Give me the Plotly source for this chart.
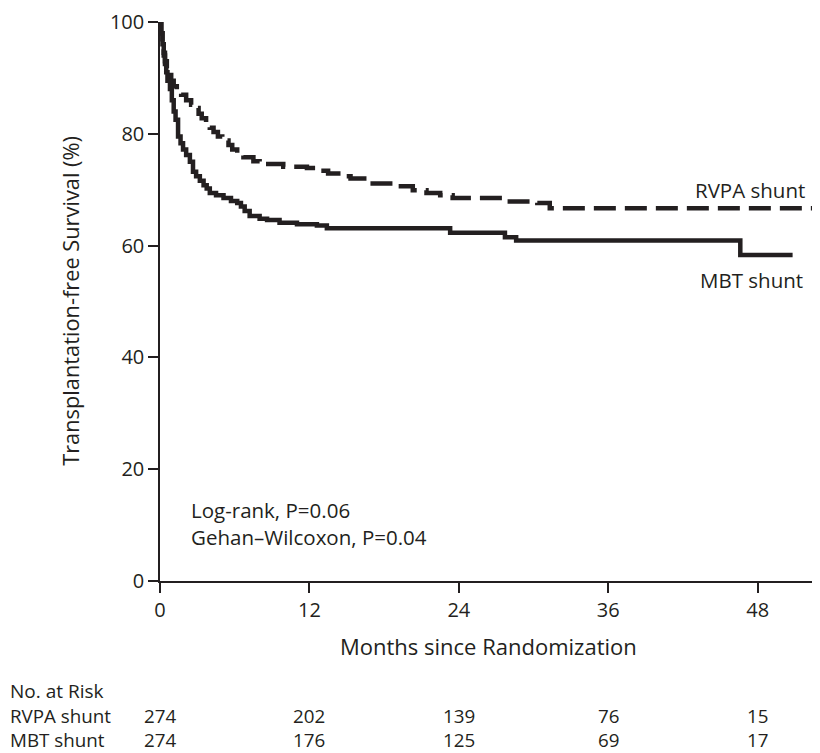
import plotly.graph_objects as go

# Kaplan-Meier estimates (months, % surviving)
rvpa_months = [0, 0.1, 0.2, 0.3, 0.4, 0.55, 0.7, 0.9, 1.1, 1.35, 1.7, 2.1, 2.5, 2.8,
               3.1, 3.35, 3.7, 4.0, 4.3, 4.65, 5.0, 5.5, 5.8, 6.2, 6.7, 7.5, 8.0,
               9.9, 11.8, 12.6, 13.5, 14.5, 15.3, 16.6, 18.7, 20.3, 21.4, 22.5,
               23.5, 27.6, 30.3, 31.3, 52.4]
rvpa_surv = [100, 98, 96, 94.5, 93, 91.5, 90.5, 89.5, 88.5, 87.7, 87.0, 86.0, 85.2, 84.6,
             83.6, 82.8, 82.0, 81.1, 80.3, 79.5, 78.8, 78.0, 77.2, 76.4, 75.8, 75.1, 74.6,
             74.1, 73.9, 73.4, 72.9, 72.4, 72.0, 71.1, 70.6, 69.9, 69.4, 69.0,
             68.5, 67.9, 67.6, 66.7, 66.7]

mbt_months = [0, 0.1, 0.2, 0.3, 0.4, 0.5, 0.6, 0.8, 0.95, 1.1, 1.25, 1.45, 1.65, 1.85,
              2.1, 2.4, 2.65, 2.9, 3.2, 3.5, 3.75, 4.0, 4.5, 5.1, 5.7, 6.2, 6.5, 6.8,
              7.2, 8.0, 8.6, 9.6, 11.0, 12.6, 13.4, 23.3, 27.7, 28.6, 46.6, 50.8]
mbt_surv = [100, 98, 96, 94, 92.5, 91, 89.5, 88.0, 86, 84, 82.5, 79.5, 78.3, 77.2,
            76.2, 75.0, 73.2, 72.4, 71.6, 70.8, 70.2, 69.4, 69.0, 68.5, 68.0, 67.6, 67.0, 66.2,
            65.3, 64.8, 64.6, 64.1, 63.8, 63.6, 63.1, 62.3, 61.5, 60.9, 58.3, 58.3]

risk_months = [0, 12, 24, 36, 48]
risk_rvpa = [274, 202, 139, 76, 15]
risk_mbt = [274, 176, 125, 69, 17]

ink = "#231f20"
font = "Open Sans"

fig = go.Figure()
fig.add_trace(go.Scatter(x=rvpa_months, y=rvpa_surv, mode="lines", line_shape="hv",
                         line=dict(color=ink, width=4.5, dash="22px,9px"),
                         name="RVPA shunt"))
fig.add_trace(go.Scatter(x=mbt_months, y=mbt_surv, mode="lines", line_shape="hv",
                         line=dict(color=ink, width=4.5), name="MBT shunt"))

ann = []
# curve labels
ann.append(dict(x=42.8, y=70.0, xref="x", yref="y", text="RVPA shunt",
                xanchor="left", yanchor="middle", showarrow=False, font=dict(size=20.5)))
ann.append(dict(x=43.2, y=53.9, xref="x", yref="y", text="MBT shunt",
                xanchor="left", yanchor="middle", showarrow=False, font=dict(size=20.5)))
# test results
ann.append(dict(x=2.3, y=10.2, xref="x", yref="y",
                text="Log-rank, P=0.06<br>Gehan\u2013Wilcoxon, P=0.04", align="left",
                xanchor="left", yanchor="middle", showarrow=False, font=dict(size=20.5)))
# axis titles
ann.append(dict(x=0.498, y=-0.117, xref="paper", yref="paper",
                text="Months since Randomization", xanchor="center", yanchor="middle",
                showarrow=False, font=dict(size=22)))
ann.append(dict(x=-0.135, y=0.501, xref="paper", yref="paper",
                text="Transplantation-free Survival (%)", textangle=-90,
                xanchor="center", yanchor="middle", showarrow=False, font=dict(size=21.8)))
# number at risk table: each column holds both rows
row_x = -152 / 660
ann.append(dict(x=row_x, y=-0.196, xref="paper", yref="paper", text="No. at Risk",
                xanchor="left", yanchor="middle", showarrow=False, font=dict(size=19)))
ann.append(dict(x=row_x, y=-0.263, xref="paper", yref="paper",
                text="RVPA shunt<br>MBT shunt", align="left",
                xanchor="left", yanchor="middle", showarrow=False, font=dict(size=18.8)))
for m, a, b in zip(risk_months, risk_rvpa, risk_mbt):
    ann.append(dict(x=m, y=-0.263, xref="x", yref="paper", text=f"{a}<br>{b}",
                    xanchor="center", yanchor="middle", showarrow=False,
                    font=dict(size=18.8)))

# the page body adds 8px around the figure, so the figure is 8px smaller
fig.update_layout(
    width=812, height=745,
    margin=dict(l=152, r=0, t=2, b=172),
    paper_bgcolor="white", plot_bgcolor="white",
    showlegend=False,
    font=dict(family=font, size=20, color=ink),
    annotations=ann,
)
fig.update_xaxes(range=[0, 53], tickvals=risk_months, showline=True, linecolor=ink,
                 linewidth=1.5, ticks="outside", ticklen=10, tickwidth=1.5, tickcolor=ink,
                 showgrid=False, zeroline=False, tickfont=dict(size=20),
                 ticklabeloverflow="allow")
fig.update_yaxes(range=[0, 100], tickvals=[0, 20, 40, 60, 80, 100], showline=True,
                 linecolor=ink, linewidth=1.5, ticks="outside", ticklen=10, tickwidth=1.5,
                 tickcolor=ink, showgrid=False, zeroline=False, tickfont=dict(size=20),
                 ticklabelstandoff=0, ticklabeloverflow="allow")

fig.write_html("out.html")
